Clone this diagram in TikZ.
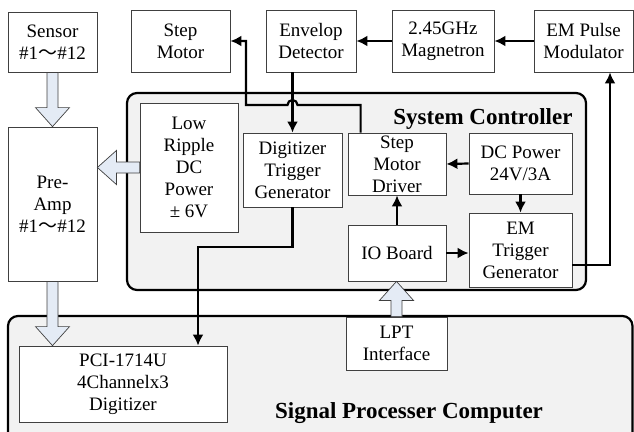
\documentclass[tikz,border=0pt]{standalone}
\usepackage{fontspec}
\setmainfont{Liberation Serif}
\newfontfamily\cjk{Noto Sans CJK SC}
\usetikzlibrary{arrows.meta, calc, positioning}
\definecolor{panelgray}{HTML}{F2F2F2}
\definecolor{fatblue}{HTML}{E4EBF5}
\tikzstyle{line} = [draw, line width=2.2pt, -{Latex[length=11pt, width=11pt]}]
\tikzstyle{block} = [rectangle, draw=black!75, fill=white, line width=0.8pt, text centered, align=center, inner sep=0pt]
\tikzstyle{panel} = [draw, line width=2.2pt, rounded corners=10pt, fill=panelgray]
\tikzstyle{fatarr} = [draw=black!75, fill=fatblue, line width=0.7pt]
\tikzstyle{title} = [font=\fontsize{23}{26}\selectfont\bfseries]
% hollow block arrow from #1 to #2
\newcommand{\fatarrow}[2]{%
  \coordinate (fa-neck) at ($(#2)!19pt!(#1)$);
  \draw [fatarr] ($(#1)!5.5pt!90:(#2)$) -- ($(fa-neck)!5.5pt!-90:(#1)$) -- ($(fa-neck)!17pt!-90:(#1)$)
    -- (#2) -- ($(fa-neck)!17pt!90:(#1)$) -- ($(fa-neck)!5.5pt!90:(#1)$) -- ($(#1)!5.5pt!-90:(#2)$) -- cycle;
}
\newcommand{\range}{\#1{\cjk ～}\#12}

\begin{document}
\begin{tikzpicture}[x=1pt, y=-1pt, font=\fontsize{19}{22}\selectfont]
\useasboundingbox (0,0) rectangle (634,431);
\clip (0,0) rectangle (634,431);
% panels
\draw [panel] (127,93) rectangle (586,290);
\draw [panel] (8,316) rectangle (632.5,445);
\node [title, anchor=base east] (ctrllabel) at (576,124) {System Controller};
\node [title, anchor=base] (pclabel) at (409,418) {Signal Processer Computer};
% top row
\node [block, minimum width=89pt, minimum height=60pt] (sensor) at (52.5,42) {Sensor\\\range};
\node [block, minimum width=99pt, minimum height=62pt] (stepmotor) at (180.5,41) {Step\\Motor};
\node [block, minimum width=90pt, minimum height=62pt] (envelop) at (311,41) {Envelop\\Detector};
\node [block, minimum width=102pt, minimum height=62pt] (magnetron) at (443,41) {2.45GHz\\Magnetron};
\node [block, minimum width=99pt, minimum height=62pt] (pulsemod) at (583.5,41) {EM Pulse\\Modulator};
\node [block, minimum width=89pt, minimum height=154pt] (preamp) at (52.5,204) {Pre-\\Amp\\\range};
% system controller
\node [block, minimum width=98pt, minimum height=129pt] (ripple) at (189,167.5) {Low\\Ripple\\DC\\Power\\± 6V};
\node [block, minimum width=99pt, minimum height=74pt] (digtrig) at (292.5,170) {Digitizer\\Trigger\\Generator};
\node [block, minimum width=98pt, minimum height=62pt] (motordrv) at (397,164) {Step\\Motor\\Driver};
\node [block, minimum width=103pt, minimum height=61pt] (dcpower) at (520.5,163.5) {DC Power\\24V/3A};
\node [block, minimum width=98pt, minimum height=56pt] (ioboard) at (397,253) {IO Board};
\node [block, minimum width=103pt, minimum height=74pt] (emtrig) at (520.5,250) {EM\\Trigger\\Generator};
% computer
\node [block, minimum width=101pt, minimum height=53pt] (lpt) at (396.5,343.5) {LPT\\Interface};
\node [block, minimum width=208pt, minimum height=76pt] (digitizer) at (123,384) {PCI-1714U\\4Channelx3\\Digitizer};
% block arrows
\fatarrow{sensor.south}{preamp.north}
\fatarrow{preamp.south}{preamp.south |- digitizer.north}
\fatarrow{ripple.west}{preamp.east |- ripple.west}
\fatarrow{lpt.north}{lpt.north |- ioboard.south}
% signal lines
\path [line] (pulsemod.west) -- (magnetron.east);
\path [line] (magnetron.west) -- (envelop.east);
\path [line] (digtrig.north |- envelop.south) -- (digtrig.north);
\coordinate (hop) at (292.5,105);
\coordinate (mtr-turn) at (246,105);
\path [line] ($(motordrv.north west)+(13,0)$) |- ($(hop)+(5,0)$) arc [start angle=0, end angle=180, radius=5pt]
  -- (mtr-turn) |- (stepmotor.east);
\coordinate (dig-turn) at (292.5,247);
\coordinate (pci-in) at (198,247);
\path [line] (digtrig.south) -- (dig-turn) -- (pci-in) -- (pci-in |- digitizer.north);
\path [line] (dcpower.west) -- (motordrv.east);
\path [line] (dcpower.south) -- (emtrig.north);
\path [line] (ioboard.north) -- (motordrv.south);
\path [line] (ioboard.east) -- (ioboard.east -| emtrig.west);
\coordinate (em-out) at ($(emtrig.east)+(0,15)$);
\coordinate (em-up) at (610,265);
\path [line] (em-out) -- (em-up) -- (em-up |- pulsemod.south);
\end{tikzpicture}
\end{document}
